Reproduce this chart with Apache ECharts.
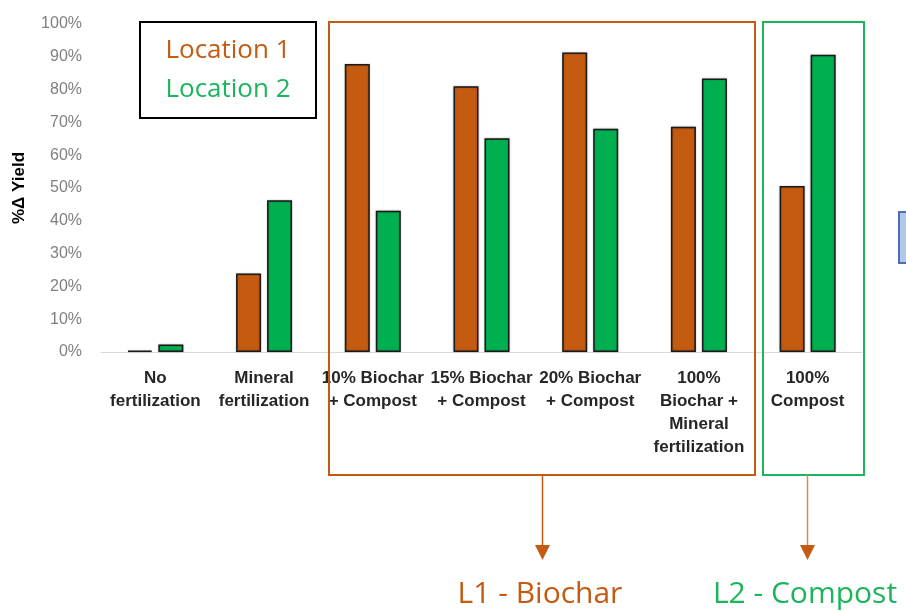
<!DOCTYPE html>
<html>
<head>
<meta charset="utf-8">
<script src="https://cdn.jsdelivr.net/npm/echarts@6/dist/echarts.min.js"></script>
<style>
  html, body { margin: 0; padding: 0; background: #ffffff; }
  #chart { width: 906px; height: 611px; }
</style>
</head>
<body>
<div id="chart"></div>
<script>
// Treatments along the x axis
const categories = [
  'No\nfertilization',
  'Mineral\nfertilization',
  '10% Biochar\n+ Compost',
  '15% Biochar\n+ Compost',
  '20% Biochar\n+ Compost',
  '100%\nBiochar +\nMineral\nfertilization',
  '100%\nCompost'
];
// Yield change (%) per location
const location1 = [0.4, 23.9, 87.8, 81.0, 91.3, 68.7, 50.6];
const location2 = [2.3, 46.3, 43.1, 65.2, 68.1, 83.4, 90.6];
const yTicks = [0, 10, 20, 30, 40, 50, 60, 70, 80, 90, 100];

const ORANGE = '#C55A11';
const GREEN = '#00B050';
const BOX_GREEN = '#1DB55C';

const chart = echarts.init(document.getElementById('chart'), null, { renderer: 'canvas' });

const barStyle = (color) => ({
  color: color,
  borderColor: '#1a1a1a',
  borderWidth: 1.5,
  shadowColor: 'rgba(0,0,0,0.25)',
  shadowBlur: 2
});

chart.setOption({
  animation: false,
  backgroundColor: '#ffffff',
  grid: { left: 101, right: 44, top: 24, bottom: 259, containLabel: false },
  xAxis: {
    type: 'category',
    data: categories,
    axisLine: { show: true, lineStyle: { color: '#D9D9D9', width: 1 } },
    axisTick: { show: false },
    axisLabel: {
      interval: 0,
      margin: 15,
      color: '#262626',
      fontFamily: 'Liberation Sans',
      fontWeight: 'bold',
      fontSize: 17,
      lineHeight: 23,
      align: 'center'
    }
  },
  yAxis: {
    type: 'value',
    min: yTicks[0],
    max: yTicks[yTicks.length - 1],
    interval: 10,
    name: '%\u0394 Yield',
    nameLocation: 'middle',
    nameGap: 73,
    nameRotate: 90,
    nameTextStyle: { color: '#000000', fontFamily: 'Liberation Sans', fontWeight: 'bold', fontSize: 17 },
    axisLine: { show: false },
    axisTick: { show: false },
    splitLine: { show: false },
    axisLabel: {
      margin: 19,
      color: '#7F7F7F',
      fontFamily: 'Liberation Sans',
      fontSize: 16,
      formatter: (v) => v + '%'
    }
  },
  series: [
    {
      name: 'Location 1',
      type: 'bar',
      data: location1,
      barWidth: 25,
      barGap: '24%',
      itemStyle: barStyle(ORANGE)
    },
    {
      name: 'Location 2',
      type: 'bar',
      data: location2,
      barWidth: 25,
      barGap: '24%',
      itemStyle: barStyle(GREEN)
    }
  ],
  graphic: [
    // legend box
    { type: 'rect', z: 100, shape: { x: 140, y: 22, width: 176, height: 96 },
      style: { fill: '#ffffff', stroke: '#000000', lineWidth: 2 } },
    { type: 'text', z: 101, x: 228, y: 51,
      style: { text: 'Location 1', fill: ORANGE, font: '26px "Open Sans"', align: 'center', verticalAlign: 'middle' } },
    { type: 'text', z: 101, x: 228, y: 90,
      style: { text: 'Location 2', fill: BOX_GREEN, font: '26px "Open Sans"', align: 'center', verticalAlign: 'middle' } },
    // biochar group frame
    { type: 'rect', z: 100, shape: { x: 329, y: 22, width: 426, height: 453 },
      style: { fill: 'none', stroke: ORANGE, lineWidth: 2 } },
    // compost group frame
    { type: 'rect', z: 100, shape: { x: 763, y: 22, width: 101, height: 453 },
      style: { fill: 'none', stroke: BOX_GREEN, lineWidth: 2 } },
    // arrows
    { type: 'line', z: 100, shape: { x1: 542.5, y1: 475, x2: 542.5, y2: 548 },
      style: { stroke: ORANGE, lineWidth: 1.5 } },
    { type: 'polygon', z: 100, shape: { points: [[535, 545], [550, 545], [542.5, 560]] },
      style: { fill: ORANGE } },
    { type: 'line', z: 100, shape: { x1: 807.5, y1: 475, x2: 807.5, y2: 548 },
      style: { stroke: '#D9895A', lineWidth: 1.5 } },
    { type: 'polygon', z: 100, shape: { points: [[800, 545], [815, 545], [807.5, 560]] },
      style: { fill: ORANGE } },
    // captions
    { type: 'text', z: 101, x: 540, y: 594,
      style: { text: 'L1 - Biochar', fill: ORANGE, font: '30px "Open Sans"', align: 'center', verticalAlign: 'middle' } },
    { type: 'text', z: 101, x: 805, y: 594,
      style: { text: 'L2 - Compost', fill: BOX_GREEN, font: '30px "Open Sans"', align: 'center', verticalAlign: 'middle' } },
    // partial shape on the right edge
    { type: 'rect', z: 100, shape: { x: 899, y: 212, width: 20, height: 51 },
      style: { fill: '#B4C7E7', stroke: '#4A6FB5', lineWidth: 2 } }
  ]
});
</script>
</body>
</html>
